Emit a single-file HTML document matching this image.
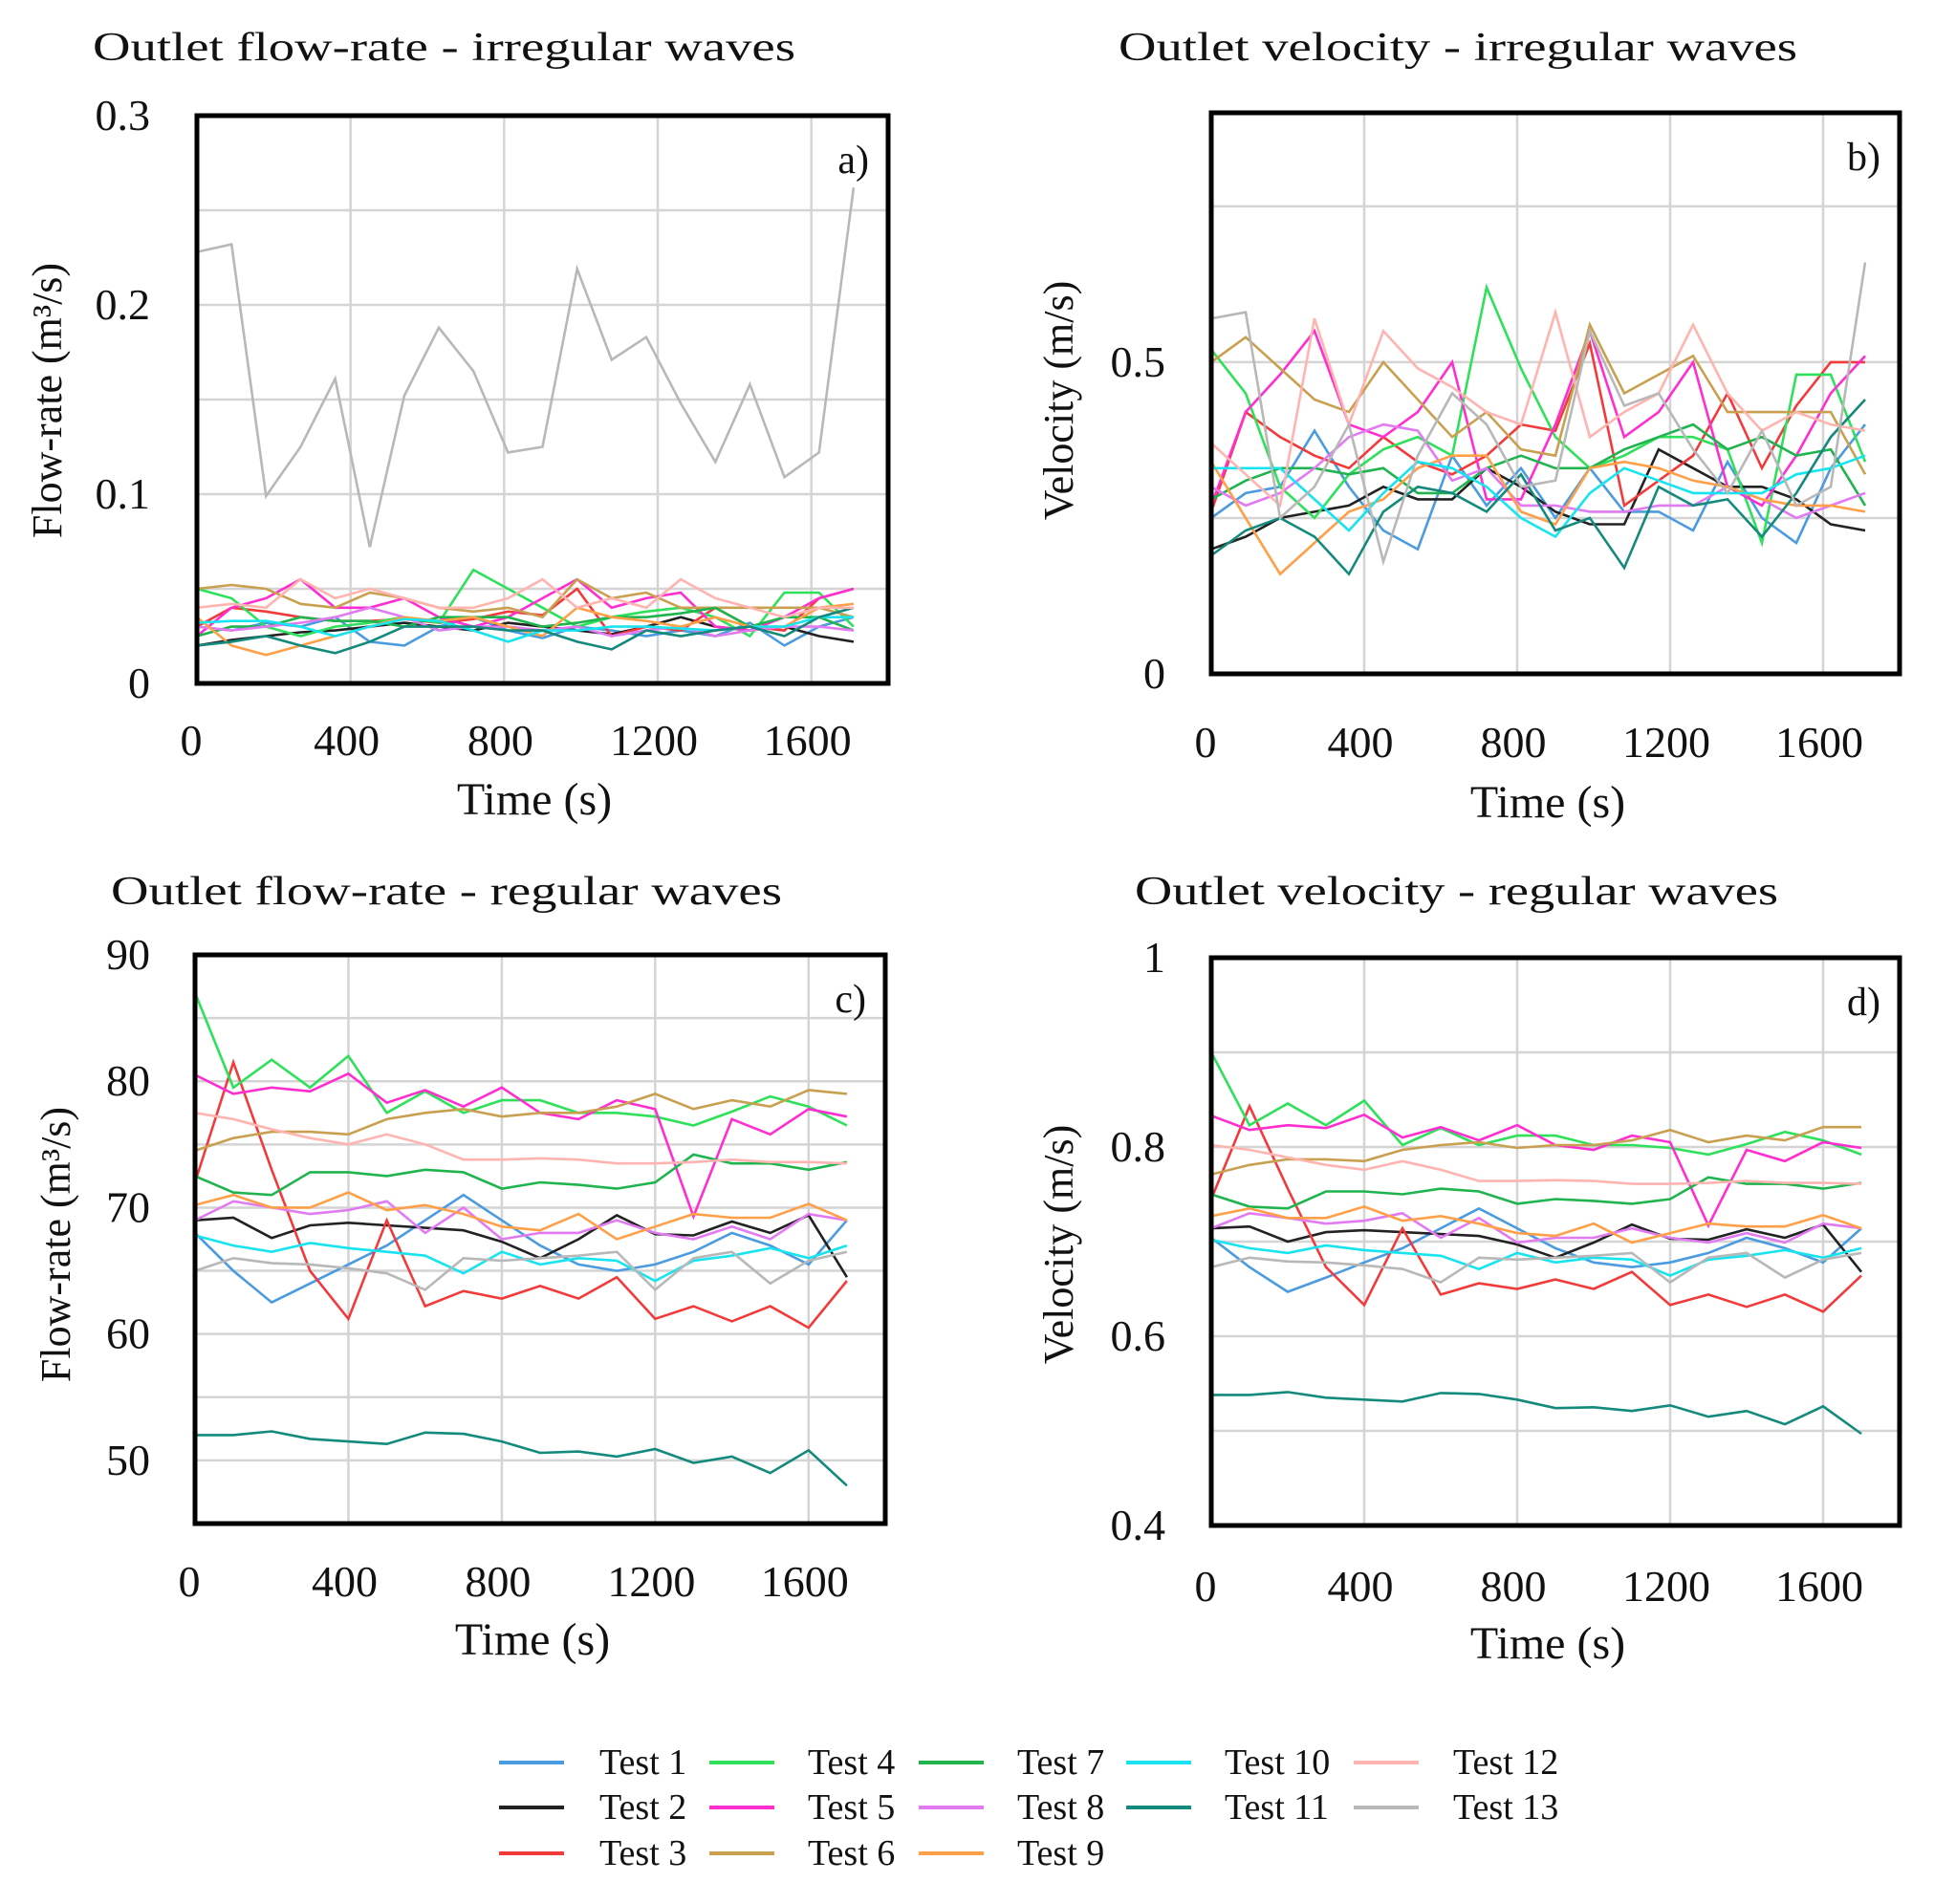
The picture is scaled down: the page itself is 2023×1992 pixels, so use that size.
<!DOCTYPE html>
<html><head><meta charset="utf-8">
<style>
html,body{margin:0;padding:0;background:#fff;}
svg{display:block;}
text{font-family:"Liberation Serif",serif;fill:#111;}
</style></head>
<body>
<svg id="fig" width="2023" height="1992" viewBox="0 0 2023 1992" xmlns="http://www.w3.org/2000/svg"></svg>
<script>
// ---------- shared data ----------
const testNames = ["Test 1","Test 2","Test 3","Test 4","Test 5","Test 6","Test 7","Test 8","Test 9","Test 10","Test 11","Test 12","Test 13"];
const testColors = ["#4a9be0","#222222","#f23a3a","#2fe05a","#ff2ed0","#c8a050","#1fb44e","#e27af2","#ffa048","#18e4f0","#138a7c","#ffb4b0","#b8b8b8"];
const xTicks = [0,400,800,1200,1600];

// ---------- (a) irregular flow-rate, t = 0..1710 step 90 ----------
const timeIrr = [0,90,180,270,360,450,540,630,720,810,900,990,1080,1170,1260,1350,1440,1530,1620,1710];
const flowIrr1 = [.030,.028,.032,.030,.035,.022,.020,.030,.035,.028,.024,.030,.028,.025,.028,.025,.032,.020,.030,.035];
const flowIrr2 = [.020,.023,.025,.027,.028,.030,.032,.030,.028,.032,.030,.028,.026,.030,.035,.030,.028,.030,.025,.022];
const flowIrr3 = [.030,.040,.038,.035,.033,.033,.034,.032,.034,.038,.036,.050,.025,.030,.028,.040,.030,.028,.045,.050];
const flowIrr4 = [.050,.045,.030,.025,.030,.032,.035,.032,.060,.050,.040,.030,.035,.038,.040,.035,.025,.048,.048,.030];
const flowIrr5 = [.025,.040,.045,.055,.040,.040,.045,.035,.030,.035,.045,.055,.040,.045,.048,.030,.028,.035,.045,.050];
const flowIrr6 = [.050,.052,.050,.042,.040,.048,.045,.040,.038,.040,.035,.055,.045,.048,.040,.040,.040,.040,.040,.035];
const flowIrr7 = [.025,.030,.030,.035,.033,.033,.030,.035,.035,.035,.030,.032,.035,.035,.037,.040,.030,.035,.035,.028];
const flowIrr8 = [.030,.028,.030,.032,.035,.040,.035,.028,.030,.030,.028,.030,.025,.028,.030,.025,.028,.030,.030,.028];
const flowIrr9 = [.035,.020,.015,.020,.025,.030,.035,.033,.035,.030,.025,.040,.035,.033,.030,.035,.030,.030,.040,.042];
const flowIrr10 = [.032,.033,.033,.030,.025,.030,.034,.033,.028,.022,.028,.028,.030,.030,.029,.028,.030,.030,.035,.035];
const flowIrr11 = [.020,.022,.025,.020,.016,.022,.030,.030,.030,.028,.028,.022,.018,.028,.025,.028,.030,.025,.035,.040];
const flowIrr12 = [.040,.042,.040,.055,.045,.050,.045,.040,.040,.045,.055,.040,.045,.040,.055,.045,.040,.035,.040,.040];
const flowIrr13 = [.228,.232,.099,.125,.161,.072,.152,.188,.165,.122,.125,.219,.171,.183,.148,.117,.158,.109,.122,.262];
const flowIrrTicks = [0,0.1,0.2,0.3];
const flowIrrTickLabels = ["0","0.1","0.2","0.3"];

// ---------- (b) irregular velocity ----------
const velIrr1 = [0.25,0.29,0.30,0.39,0.30,0.23,0.20,0.35,0.27,0.33,0.25,0.33,0.26,0.26,0.23,0.34,0.25,0.21,0.33,0.40];
const velIrr2 = [0.20,0.22,0.25,0.26,0.27,0.30,0.28,0.28,0.33,0.30,0.26,0.24,0.24,0.36,0.33,0.30,0.30,0.28,0.24,0.23];
const velIrr3 = [0.26,0.42,0.38,0.35,0.33,0.38,0.34,0.32,0.35,0.40,0.39,0.53,0.27,0.31,0.35,0.45,0.33,0.43,0.50,0.50];
const velIrr4 = [0.52,0.45,0.30,0.25,0.32,0.36,0.38,0.35,0.62,0.49,0.38,0.33,0.35,0.38,0.38,0.36,0.21,0.48,0.48,0.34];
const velIrr5 = [0.27,0.42,0.48,0.55,0.40,0.38,0.42,0.50,0.28,0.28,0.40,0.55,0.38,0.42,0.50,0.30,0.27,0.35,0.45,0.51];
const velIrr6 = [0.50,0.54,0.49,0.44,0.42,0.50,0.44,0.38,0.42,0.36,0.35,0.56,0.45,0.48,0.51,0.42,0.42,0.42,0.42,0.32];
const velIrr7 = [0.28,0.31,0.33,0.33,0.32,0.33,0.29,0.29,0.33,0.35,0.33,0.33,0.36,0.38,0.40,0.36,0.38,0.35,0.36,0.27];
const velIrr8 = [0.30,0.27,0.29,0.33,0.38,0.40,0.39,0.31,0.33,0.27,0.27,0.26,0.26,0.27,0.27,0.30,0.28,0.25,0.27,0.29];
const velIrr9 = [0.34,0.25,0.16,0.21,0.26,0.28,0.33,0.35,0.35,0.26,0.24,0.33,0.34,0.33,0.31,0.30,0.28,0.27,0.27,0.26];
const velIrr10 = [0.33,0.33,0.33,0.28,0.23,0.29,0.34,0.33,0.30,0.25,0.22,0.29,0.33,0.31,0.29,0.29,0.29,0.32,0.33,0.35];
const velIrr11 = [0.19,0.23,0.25,0.22,0.16,0.26,0.30,0.29,0.26,0.32,0.23,0.25,0.17,0.30,0.27,0.28,0.22,0.29,0.38,0.44];
const velIrr12 = [0.37,0.32,0.27,0.57,0.40,0.55,0.49,0.46,0.42,0.40,0.58,0.38,0.42,0.45,0.56,0.45,0.39,0.42,0.40,0.39];
const velIrr13 = [0.57,0.58,0.25,0.30,0.40,0.18,0.35,0.45,0.40,0.30,0.31,0.55,0.43,0.45,0.36,0.29,0.39,0.27,0.30,0.66];
const velIrrTicks = [0,0.5];
const velIrrTickLabels = ["0","0.5"];

// ---------- (c) regular flow-rate, t = 0..1700 step 100 ----------
const timeReg = [0,100,200,300,400,500,600,700,800,900,1000,1100,1200,1300,1400,1500,1600,1700];
const flowReg1 = [68,65,62.5,64,65.5,67,69,71,69,67,65.5,65,65.5,66.5,68,67,65.5,69];
const flowReg2 = [69,69.2,67.6,68.6,68.8,68.6,68.4,68.2,67.3,66,67.5,69.4,67.9,67.8,68.9,68,69.4,64.5];
const flowReg3 = [72,81.5,73,65,61.2,69,62.2,63.4,62.8,63.8,62.8,64.5,61.2,62.2,61,62.2,60.5,64.2];
const flowReg4 = [87,79.5,81.7,79.5,82,77.5,79.2,77.5,78.5,78.5,77.5,77.5,77.2,76.5,77.6,78.8,78,76.5];
const flowReg5 = [80.5,79,79.5,79.2,80.6,78.3,79.3,78,79.5,77.5,77,78.5,77.8,69.3,77,75.8,77.8,77.2];
const flowReg6 = [74.5,75.5,76,76,75.8,77,77.5,77.8,77.2,77.5,77.5,78,79,77.8,78.5,78,79.3,79];
const flowReg7 = [72.5,71.2,71,72.8,72.8,72.5,73,72.8,71.5,72,71.8,71.5,72,74.2,73.5,73.5,73,73.6];
const flowReg8 = [69,70.5,70,69.5,69.8,70.5,68,70,67.5,68,68,69,68,67.5,68.5,67.5,69.5,69];
const flowReg9 = [70.2,71,70,70,71.2,69.8,70.2,69.5,68.5,68.2,69.5,67.5,68.5,69.5,69.2,69.2,70.3,69];
const flowReg10 = [67.8,67,66.5,67.2,66.8,66.5,66.2,64.8,66.5,65.5,66,65.8,64.2,65.8,66.2,66.8,66,67];
const flowReg11 = [52,52,52.3,51.7,51.5,51.3,52.2,52.1,51.5,50.6,50.7,50.3,50.9,49.8,50.3,49,50.8,48];
const flowReg12 = [77.5,77,76.2,75.5,75,75.8,75,73.8,73.8,73.9,73.8,73.5,73.5,73.6,73.8,73.6,73.6,73.5];
const flowReg13 = [65,66,65.6,65.5,65.2,64.8,63.5,66,65.8,66,66.2,66.5,63.5,66,66.5,64,65.8,66.5];
const flowRegTicks = [50,60,70,80,90];
const flowRegTickLabels = ["50","60","70","80","90"];

// ---------- (d) regular velocity ----------
const velReg1 = [.704,.673,.647,.662,.678,.693,.714,.735,.714,.693,.678,.673,.678,.688,.704,.693,.678,.714];
const velReg2 = [.714,.716,.700,.710,.712,.710,.708,.706,.697,.683,.699,.718,.703,.702,.713,.704,.718,.668];
const velReg3 = [.745,.843,.756,.673,.633,.714,.644,.656,.650,.660,.650,.668,.633,.644,.631,.644,.626,.664];
const velReg4 = [.900,.823,.846,.823,.849,.802,.820,.802,.812,.812,.802,.802,.799,.792,.803,.816,.807,.792];
const velReg5 = [.833,.818,.823,.820,.834,.810,.821,.807,.823,.802,.797,.812,.805,.717,.797,.785,.805,.799];
const velReg6 = [.771,.781,.787,.787,.785,.797,.802,.805,.799,.802,.802,.807,.818,.805,.812,.807,.821,.821];
const velReg7 = [.750,.737,.735,.753,.753,.750,.756,.753,.740,.745,.743,.740,.745,.768,.761,.761,.756,.762];
const velReg8 = [.714,.730,.725,.719,.722,.730,.704,.725,.699,.704,.704,.714,.704,.699,.709,.699,.719,.714];
const velReg9 = [.727,.735,.725,.725,.737,.722,.727,.719,.709,.706,.719,.699,.709,.719,.716,.716,.728,.714];
const velReg10 = [.702,.693,.688,.696,.691,.688,.685,.671,.688,.678,.683,.681,.664,.681,.685,.691,.683,.693];
const velReg11 = [.538,.538,.541,.535,.533,.531,.540,.539,.533,.524,.525,.521,.527,.515,.521,.507,.526,.497];
const velReg12 = [.802,.797,.789,.781,.776,.785,.776,.764,.764,.765,.764,.761,.761,.762,.764,.762,.762,.761];
const velReg13 = [.673,.683,.679,.678,.675,.671,.657,.683,.681,.683,.685,.688,.657,.683,.688,.662,.681,.688];
const velRegTicks = [0.4,0.6,0.8,1];
const velRegTickLabels = ["0.4","0.6","0.8","1"];

const NS = "http://www.w3.org/2000/svg";
const svg = document.getElementById("fig");
function mk(tag, attrs, parent){
  const e = document.createElementNS(NS, tag);
  for (const k in attrs) e.setAttribute(k, attrs[k]);
  (parent||svg).appendChild(e);
  return e;
}

const panels = [
  {id:"a", title:"Outlet flow-rate - irregular waves", tx:97, tr:832, ty:63,
   L:206,R:929,T:121,B:715, ymin:0,ymax:0.3, grid:[0.05,0.1,0.15,0.2,0.25],
   ticks:flowIrrTicks, labels:flowIrrTickLabels, tickRight:157, xLabY:790,
   xt:559, xty:852, yt:"Flow-rate (m\u00B3/s)", ytx:49, yty:419,
   time:timeIrr, series:[flowIrr1,flowIrr2,flowIrr3,flowIrr4,flowIrr5,flowIrr6,flowIrr7,flowIrr8,flowIrr9,flowIrr10,flowIrr11,flowIrr12,flowIrr13]},
  {id:"b", title:"Outlet velocity - irregular waves", tx:1170, tr:1880, ty:63,
   L:1267,R:1987,T:118,B:705, ymin:0,ymax:0.9, grid:[0.25,0.5,0.75],
   ticks:velIrrTicks, labels:velIrrTickLabels, tickRight:1219, xLabY:792,
   xt:1619, xty:855, yt:"Velocity (m/s)", ytx:1107, yty:419,
   time:timeIrr, series:[velIrr1,velIrr2,velIrr3,velIrr4,velIrr5,velIrr6,velIrr7,velIrr8,velIrr9,velIrr10,velIrr11,velIrr12,velIrr13]},
  {id:"c", title:"Outlet flow-rate - regular waves", tx:116, tr:818, ty:946,
   L:204,R:926,T:999,B:1594, ymin:45,ymax:90, grid:[50,55,60,65,70,75,80,85],
   ticks:flowRegTicks, labels:flowRegTickLabels, tickRight:157, xLabY:1670,
   xt:557, xty:1731, yt:"Flow-rate (m\u00B3/s)", ytx:58, yty:1302,
   time:timeReg, series:[flowReg1,flowReg2,flowReg3,flowReg4,flowReg5,flowReg6,flowReg7,flowReg8,flowReg9,flowReg10,flowReg11,flowReg12,flowReg13]},
  {id:"d", title:"Outlet velocity - regular waves", tx:1187, tr:1860, ty:946,
   L:1267,R:1987,T:1002,B:1596, ymin:0.4,ymax:1, grid:[0.5,0.6,0.7,0.8,0.9],
   ticks:velRegTicks, labels:velRegTickLabels, tickRight:1219, xLabY:1675,
   xt:1619, xty:1735, yt:"Velocity (m/s)", ytx:1107, yty:1302,
   time:timeReg, series:[velReg1,velReg2,velReg3,velReg4,velReg5,velReg6,velReg7,velReg8,velReg9,velReg10,velReg11,velReg12,velReg13]}
];

panels.forEach(p => {
  const g = mk("g", {});
  
  
  const xs = t => p.L + (t/1800)*(p.R-p.L);
  const ys = v => p.B - (v-p.ymin)/(p.ymax-p.ymin)*(p.B-p.T);

  const title = mk("text", {x:p.tx, y:p.ty, "font-size":42, textLength:p.tr-p.tx, lengthAdjust:"spacingAndGlyphs"}, g);
  title.textContent = p.title;
  
  

  xTicks.forEach(t => {
    if (t === 0) return;
    const l = mk("line", {x1:xs(t), x2:xs(t), y1:p.T, y2:p.B, stroke:"#d4d4d4", "stroke-width":2.5}, g);
    
    
  });
  p.grid.forEach(v => {
    const l = mk("line", {x1:p.L, x2:p.R, y1:ys(v), y2:ys(v), stroke:"#d4d4d4", "stroke-width":2.5}, g);
    
    
  });

  p.series.forEach((arr, i) => {
    const pts = arr.map((v, k) => xs(p.time[k]).toFixed(1) + "," + ys(v).toFixed(1)).join(" ");
    const pl = mk("polyline", {points:pts, fill:"none", stroke:testColors[i], "stroke-width":2.6, "stroke-linejoin":"miter"}, g);
    
    
  });

  const fr = mk("rect", {x:p.L, y:p.T, width:p.R-p.L, height:p.B-p.T, fill:"none", stroke:"#000", "stroke-width":5}, g);
  
  

  const pl = mk("text", {x:p.R-20, y:p.T+60, "font-size":42, "text-anchor":"end"}, g);
  pl.textContent = p.id + ")";
  
  

  xTicks.forEach(t => {
    const tx = mk("text", {x:xs(t) - (t===0?6:4), y:p.xLabY, "font-size":46, "text-anchor":"middle"}, g);
    tx.textContent = String(t);
    
    
  });
  p.ticks.forEach((v, k) => {
    const ty = mk("text", {x:p.tickRight, y:ys(v)+15, "font-size":46, "text-anchor":"end"}, g);
    ty.textContent = p.labels[k];
    
    
  });
  const xt = mk("text", {x:p.xt, y:p.xty, "font-size":48, "text-anchor":"middle"}, g);
  xt.textContent = "Time (s)";
  
  
  const yt = mk("text", {x:0, y:0, "font-size":44, "text-anchor":"middle", transform:"translate(" + (p.ytx+15) + "," + p.yty + ") rotate(-90)"}, g);
  yt.textContent = p.yt;
  
  
});

// legend: columns [T1-3],[T4-6],[T7-9],[T10-11],[T12-13]
const legCols = [[522,627],[742,845],[961,1064],[1178,1281],[1416,1520]];
const legRows = [1844,1891,1939];
const legCol = [0,0,0,1,1,1,2,2,2,3,3,4,4];
const legRow = [0,1,2,0,1,2,0,1,2,0,1,0,1];
const leg = mk("g", {});


testNames.forEach((name, i) => {
  const c = legCol[i], r = legRow[i];
  const y = legRows[r];
  const ln = mk("line", {x1:legCols[c][0], x2:legCols[c][0]+68, y1:y, y2:y, stroke:testColors[i], "stroke-width":4}, leg);
  
  
  const t = mk("text", {x:legCols[c][1], y:y+12, "font-size":38}, leg);
  t.textContent = name;
  
  
});
</script>
</body></html>
